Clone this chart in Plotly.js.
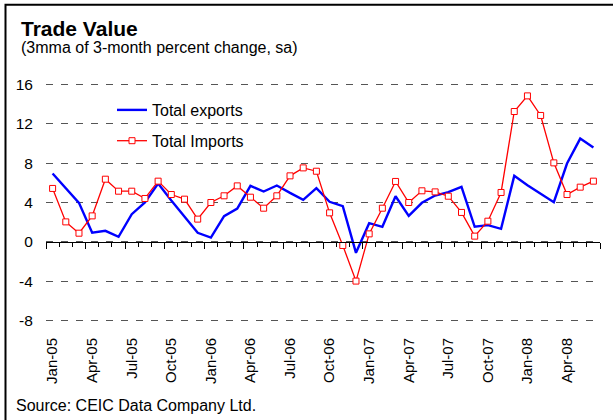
<!DOCTYPE html>
<html><head><meta charset="utf-8">
<script src="https://cdn.plot.ly/plotly-3.0.1.min.js"></script>
<style>html,body{margin:0;padding:0;background:#fff}#chart{width:613px;height:420px}</style>
</head><body><div id="chart"></div>
<script>
const months = ['Jan-05','Feb-05','Mar-05','Apr-05','May-05','Jun-05','Jul-05','Aug-05','Sep-05','Oct-05','Nov-05','Dec-05',
  'Jan-06','Feb-06','Mar-06','Apr-06','May-06','Jun-06','Jul-06','Aug-06','Sep-06','Oct-06','Nov-06','Dec-06',
  'Jan-07','Feb-07','Mar-07','Apr-07','May-07','Jun-07','Jul-07','Aug-07','Sep-07','Oct-07','Nov-07','Dec-07',
  'Jan-08','Feb-08','Mar-08','Apr-08','May-08','Jun-08'];
const tickLabels = ['Jan-05','Apr-05','Jul-05','Oct-05','Jan-06','Apr-06','Jul-06','Oct-06','Jan-07','Apr-07','Jul-07','Oct-07','Jan-08','Apr-08'];
const totalExports = [6.95,5.45,3.96,0.92,1.12,0.51,2.81,4.0,5.93,4.2,2.5,0.92,
  0.44,2.61,3.39,5.69,5.12,5.73,4.98,4.27,5.46,4.07,3.63,-1.12,
  1.9,1.53,4.64,2.64,3.97,4.71,5.05,5.59,1.53,1.7,1.32,6.71,
  5.76,4.92,4.03,7.96,10.5,9.59];
const totalImports = [5.43,2.03,0.88,2.64,6.37,5.15,5.15,4.41,6.17,4.81,4.34,2.31,
  4.0,4.68,5.69,4.54,3.42,4.68,6.71,7.52,7.18,2.95,-0.37,-3.99,
  0.81,3.42,6.14,4.0,5.19,5.08,4.64,2.99,0.58,2.1,5.02,13.25,
  14.84,12.85,8.03,4.81,5.56,6.17];
const yTicks = [-8,-4,0,4,8,12,16];

const W = 613, H = 420;
const M = {l: 46, r: 13, t: 83, b: 98};
const PW = W - M.l - M.r, PH = H - M.t - M.b;
const px2x = px => (px - M.l) / PW;
const px2y = py => (H - M.b - py) / PH;
const yRange = [-8.15, 16.15];
const FONT = 'Liberation Sans, Arial, sans-serif';

const traces = [
  {type: 'scatter', mode: 'lines', name: 'Total exports', x: months, y: totalExports,
   line: {color: '#0000FF', width: 2.4}, legendgroup: 'a', hoverinfo: 'skip'},
  {type: 'scatter', mode: 'lines+markers', name: 'Total Imports', x: months, y: totalImports,
   line: {color: '#FF0000', width: 1.3},
   marker: {symbol: 'square', size: 6, color: '#FFFFFF', line: {color: '#FF0000', width: 1}},
   legendgroup: 'b', hoverinfo: 'skip'},
  {type: 'scatter', mode: 'lines', x: [], y: [], xaxis: 'x2', showlegend: false, hoverinfo: 'skip'}
];

const layout = {
  width: W, height: H,
  margin: M,
  paper_bgcolor: '#FFFFFF', plot_bgcolor: '#FFFFFF',
  font: {family: FONT, color: '#000000', size: 15},
  showlegend: true,
  legend: {x: px2x(112), y: px2y(93), xanchor: 'left', yanchor: 'top',
    bgcolor: 'rgba(0,0,0,0)', borderwidth: 0, font: {size: 16, family: FONT},
    traceorder: 'grouped', tracegroupgap: 7},
  xaxis: {type: 'category', categoryorder: 'array', categoryarray: months,
    range: [-0.5, months.length - 0.5], tickmode: 'array', tickvals: tickLabels, ticktext: tickLabels,
    tickangle: -90, ticks: 'outside', ticklen: 9, tickcolor: 'rgba(0,0,0,0)',
    showgrid: false, zeroline: false, showline: false, tickfont: {size: 15}},
  xaxis2: {overlaying: 'x', anchor: 'free', position: (0 - yRange[0]) / (yRange[1] - yRange[0]),
    range: [-0.5, months.length - 0.5], showticklabels: false, showgrid: false, zeroline: false,
    showline: true, linecolor: '#000000', linewidth: 1.2,
    tickmode: 'linear', tick0: -0.5, dtick: 3, ticks: 'outside', ticklen: 6, tickwidth: 1, tickcolor: '#000000',
    minor: {tickmode: 'linear', tick0: -0.5, dtick: 1, ticks: 'outside', ticklen: 4, tickwidth: 1, tickcolor: '#000000', showgrid: false}},
  yaxis: {range: yRange, tickmode: 'array', tickvals: yTicks, ticktext: yTicks.map(String),
    showgrid: true, gridcolor: '#555555', gridwidth: 1.3, griddash: '7px,8px',
    zeroline: false, showline: false, ticks: 'outside', ticklen: 9, tickcolor: 'rgba(0,0,0,0)',
    tickfont: {size: 15.5}},
  shapes: [
    {type: 'rect', xref: 'paper', yref: 'paper', layer: 'between',
     x0: px2x(85), x1: px2x(279), y0: px2y(157), y1: px2y(95),
     fillcolor: '#FFFFFF', line: {width: 0}},
    {type: 'rect', xref: 'paper', yref: 'paper', layer: 'above',
     x0: px2x(5.5), x1: px2x(618), y0: px2y(428), y1: px2y(4.7),
     fillcolor: 'rgba(0,0,0,0)', line: {color: '#000000', width: 2}}
  ],
  annotations: [
    {text: '<b>Trade Value</b>', xref: 'paper', yref: 'paper', x: px2x(19), y: px2y(29),
     xanchor: 'left', yanchor: 'middle', showarrow: false, font: {size: 21, family: FONT}},
    {text: '(3mma of 3-month percent change, sa)', xref: 'paper', yref: 'paper', x: px2x(19), y: px2y(47.5),
     xanchor: 'left', yanchor: 'middle', showarrow: false, font: {size: 16, family: FONT}},
    {text: 'Source: CEIC Data Company Ltd.', xref: 'paper', yref: 'paper', x: px2x(13.5), y: px2y(405),
     xanchor: 'left', yanchor: 'middle', showarrow: false, font: {size: 16, family: FONT}}
  ]
};

Plotly.newPlot('chart', traces, layout, {staticPlot: true, displayModeBar: false});
</script>
</body></html>
